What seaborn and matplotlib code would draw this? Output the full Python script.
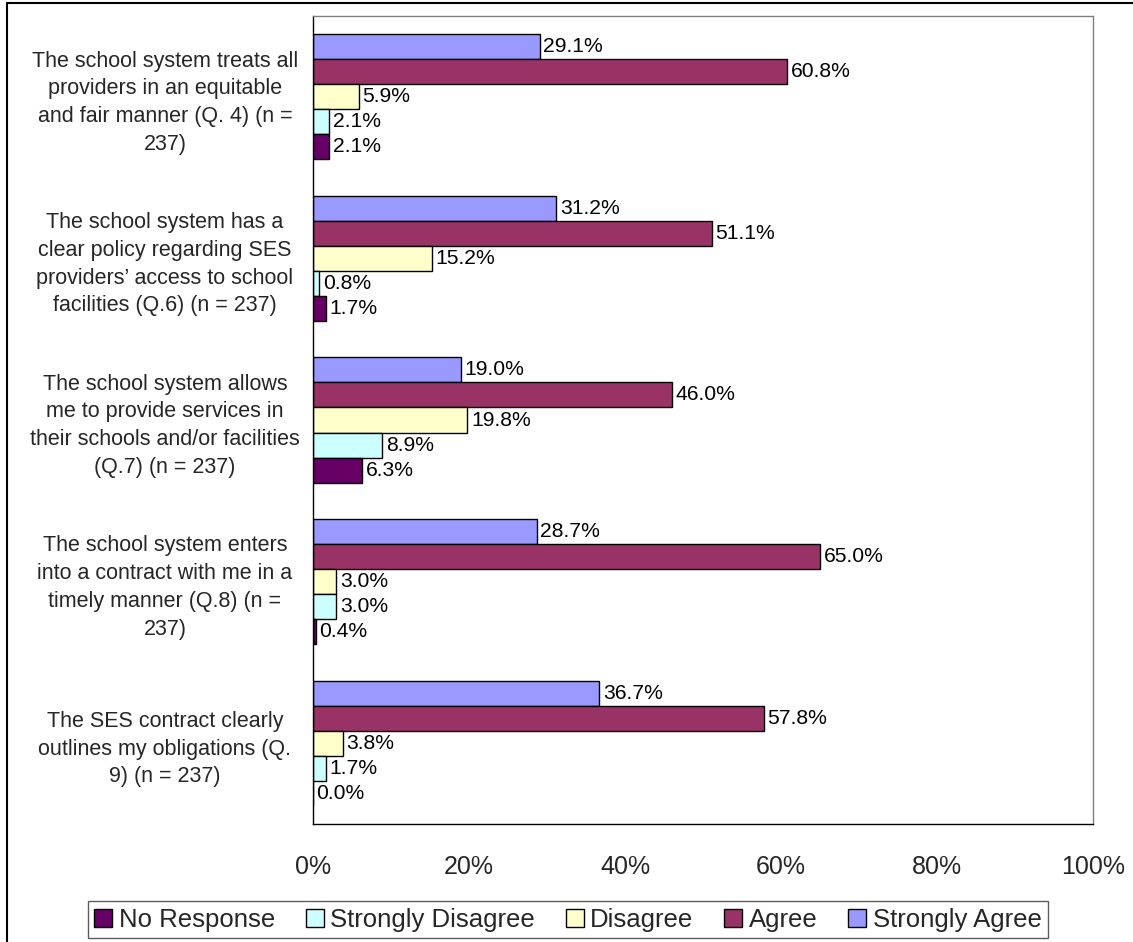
import matplotlib
matplotlib.use("Agg")
import matplotlib.pyplot as plt
from matplotlib.lines import Line2D
from matplotlib.patches import Patch
import seaborn as sns
import pandas as pd

# Survey statements (category axis)
questions = [
    "The school system treats all\nproviders in an equitable\nand fair manner (Q. 4) (n =\n237)",
    "The school system has a\nclear policy regarding SES\nproviders\u2019 access to school\nfacilities (Q.6) (n = 237)",
    "The school system allows\nme to provide services in\ntheir schools and/or facilities\n(Q.7) (n = 237)",
    "The school system enters\ninto a contract with me in a\ntimely manner (Q.8) (n =\n237)",
    "The SES contract clearly\noutlines my obligations (Q.\n9) (n = 237)",
]

# Response shares in percent, one list per answer
strongly_agree = [29.1, 31.2, 19.0, 28.7, 36.7]
agree = [60.8, 51.1, 46.0, 65.0, 57.8]
disagree = [5.9, 15.2, 19.8, 3.0, 3.8]
strongly_disagree = [2.1, 0.8, 8.9, 3.0, 1.7]
no_response = [2.1, 1.7, 6.3, 0.4, 0.0]

responses = ["Strongly Agree", "Agree", "Disagree", "Strongly Disagree", "No Response"]
series = [strongly_agree, agree, disagree, strongly_disagree, no_response]
legend_order = ["No Response", "Strongly Disagree", "Disagree", "Agree", "Strongly Agree"]

x_ticks = [0, 20, 40, 60, 80, 100]
x_tick_labels = ["0%", "20%", "40%", "60%", "80%", "100%"]

colors = {
    "Strongly Agree": "#9999FF",
    "Agree": "#993366",
    "Disagree": "#FFFFCC",
    "Strongly Disagree": "#CCFFFF",
    "No Response": "#660066",
}

rows = []
for resp, vals in zip(responses, series):
    for q, v in zip(questions, vals):
        rows.append({"question": q, "response": resp, "pct": v})
df = pd.DataFrame(rows)

sns.set_theme(style="white")
plt.rcParams["font.family"] = ["Liberation Sans", "DejaVu Sans"]

fig = plt.figure(figsize=(11.33, 9.42), dpi=100)
ax = fig.add_axes([313 / 1133, 1 - 824 / 942, (1093 - 313) / 1133, (824 - 16) / 942])

sns.barplot(
    data=df, x="pct", y="question", hue="response",
    order=questions, hue_order=responses, palette=colors,
    orient="h", dodge=True, width=0.775, errorbar=None,
    edgecolor="black", linewidth=1.0, saturation=1.0, legend=False, ax=ax,
)

# Value labels at the end of each bar
for container, resp, vals in zip(ax.containers, responses, series):
    ax.bar_label(container, labels=[f"{v:.1f}%" for v in vals],
                 padding=2.5, fontsize=15.2, color="black")

ax.set_xlim(0, 100)
ax.set_xticks(x_ticks)
ax.set_xticklabels(x_tick_labels, fontsize=18)
ax.set_xlabel("")
ax.set_ylabel("")
ax.tick_params(axis="x", length=0, pad=22)
# statement labels are centred about 148 px left of the axis
ax.tick_params(axis="y", length=0, pad=148 * 72 / 100)
for lbl in ax.get_yticklabels():
    lbl.set_fontsize(15.5)
    lbl.set_horizontalalignment("center")
    lbl.set_multialignment("center")
    lbl.set_linespacing(1.42)
ax.grid(False)

for side in ["left", "bottom"]:
    ax.spines[side].set_color("black")
    ax.spines[side].set_linewidth(1.0)
for side in ["top", "right"]:
    ax.spines[side].set_color("#808080")
    ax.spines[side].set_linewidth(1.0)

handles = [Patch(facecolor=colors[r], edgecolor="black", linewidth=1.0) for r in legend_order]
leg = fig.legend(
    handles, legend_order, loc="center", bbox_to_anchor=(568 / 1133, 1 - 919.5 / 942),
    ncol=5, fontsize=18.5, frameon=True, fancybox=False, edgecolor="#333333",
    handlelength=0.7, handleheight=0.7, handletextpad=0.25, columnspacing=1.2,
    borderpad=0.25, borderaxespad=0.0,
)
leg.get_frame().set_linewidth(1.0)

# Chart border (top and left edges visible)
fig.add_artist(Line2D([7 / 1133, 1.0], [1 - 3 / 942, 1 - 3 / 942], color="black", lw=1.5, transform=fig.transFigure))
fig.add_artist(Line2D([7 / 1133, 7 / 1133], [0.0, 1 - 3 / 942], color="black", lw=1.5, transform=fig.transFigure))

fig.savefig("out.png", dpi=100, facecolor="white")
